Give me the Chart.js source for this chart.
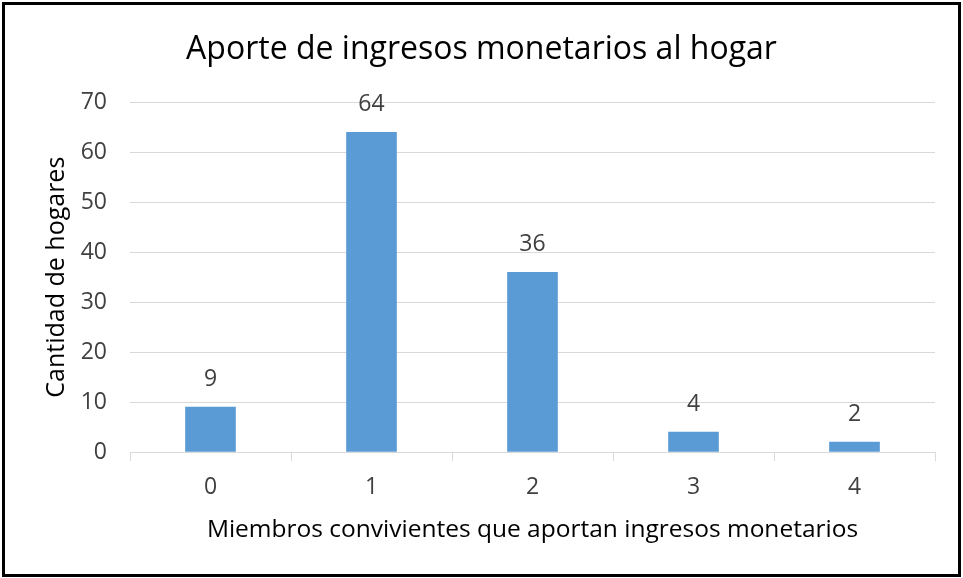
<!DOCTYPE html>
<html>
<head>
<meta charset="utf-8">
<script src="https://cdn.jsdelivr.net/npm/chart.js@4.4.0/dist/chart.umd.min.js"></script>
<style>
  html, body { margin: 0; padding: 0; background: #fff; }
  #wrap { position: relative; width: 963px; height: 578px; }
  #frame { position: absolute; left: 2px; top: 2px; width: 953px; height: 569px;
           border: 3px solid #000; pointer-events: none; }
</style>
</head>
<body>
<div id="wrap">
  <canvas id="chart" width="963" height="578"></canvas>
  <div id="frame"></div>
</div>
<script>
const categories = ['0', '1', '2', '3', '4'];
const hogares = [9, 64, 36, 4, 2];
const yTicks = [0, 10, 20, 30, 40, 50, 60, 70];

const FONT = "'Open Sans', sans-serif";

// draws the value above each bar (no datalabels plugin offline)
const barValues = {
    id: 'barValues',
    afterDatasetsDraw(chart) {
        const ctx = chart.ctx;
        const meta = chart.getDatasetMeta(0);
        ctx.save();
        ctx.font = '23px ' + FONT;
        ctx.fillStyle = '#404040';
        ctx.textAlign = 'center';
        ctx.textBaseline = 'middle';
        meta.data.forEach((bar, i) => {
            ctx.fillText(String(hogares[i]), bar.x, bar.y - 28);
        });
        ctx.restore();
    }
};

new Chart(document.getElementById('chart').getContext('2d'), {
    type: 'bar',
    data: {
        labels: categories,
        datasets: [{
            data: hogares,
            backgroundColor: '#5b9bd5',
            barThickness: 50
        }]
    },
    options: {
        responsive: false,
        animation: false,
        layout: { padding: { left: 28, right: 28, top: 0, bottom: 0 } },
        plugins: {
            legend: { display: false },
            tooltip: { enabled: false },
            title: {
                display: true,
                text: 'Aporte de ingresos monetarios al hogar',
                color: '#000',
                font: { family: FONT, size: 32, weight: 'normal', lineHeight: 1.2 },
                padding: { top: 31, bottom: 33 }
            }
        },
        scales: {
            x: {
                grid: { drawOnChartArea: false, drawTicks: true, tickLength: 9, color: '#d9d9d9' },
                border: { color: '#d9d9d9' },
                ticks: { color: '#404040', font: { family: FONT, size: 23 }, padding: 13 },
                title: {
                    display: true,
                    text: 'Miembros convivientes que aportan ingresos monetarios',
                    color: '#000',
                    font: { family: FONT, size: 24.5, lineHeight: 1.2 },
                    padding: { top: 0, bottom: 33 }
                },
                afterFit(scale) { scale.height = 126; }
            },
            y: {
                min: 0,
                max: 70,
                afterBuildTicks(scale) { scale.ticks = yTicks.map(v => ({ value: v })); },
                grid: { color: '#d9d9d9', drawTicks: false },
                border: { display: false },
                ticks: { color: '#404040', font: { family: FONT, size: 23 }, padding: 23 },
                title: {
                    display: true,
                    text: 'Cantidad de hogares',
                    color: '#000',
                    font: { family: FONT, size: 25, lineHeight: 1.2 },
                    padding: { top: 14, bottom: 0 }
                },
                afterFit(scale) { scale.width = 102; }
            }
        }
    },
    plugins: [barValues]
});
</script>
</body>
</html>
